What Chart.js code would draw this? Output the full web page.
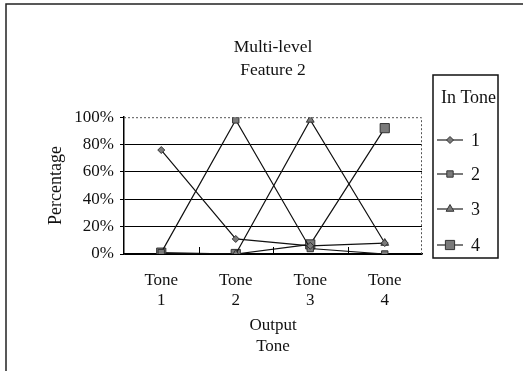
<!DOCTYPE html>
<html><head><meta charset="utf-8">
<script src="https://cdn.jsdelivr.net/npm/chart.js@4/dist/chart.umd.min.js"></script>
<style>html,body{margin:0;padding:0;background:#fff}#wrap{width:523px;height:371px;position:relative}</style>
</head><body><div id="wrap"><canvas id="c" width="523" height="371"></canvas></div>
<script>
const categories = [["Tone","1"],["Tone","2"],["Tone","3"],["Tone","4"]];
const seriesNames = ["1","2","3","4"];
const tone1 = [76, 11, 6, 8];
const tone2 = [1, 98, 4, 0];
const tone3 = [0, 0, 98, 8];
const tone4 = [1, 0, 7, 92];
const yTicks = [0, 20, 40, 60, 80, 100];
const titleLines = ["Multi-level","Feature 2"];
const xTitle = ["Output","Tone"];
const yTitle = "Percentage";
const legendTitle = "In Tone";

const SERIF = "'Liberation Serif','Times New Roman',serif";
const styles = [
  {pointStyle:'rectRot', radius:3.5},
  {pointStyle:'rect', radius:4.5},
  {pointStyle:'triangle', radius:4.5},
  {pointStyle:'rect', radius:6.5}
];
const values = [tone1, tone2, tone3, tone4];

const decor = {
  id:'decor',
  afterDraw(chart){
    const ctx = chart.ctx, a = chart.chartArea, xs = chart.scales.x;
    ctx.save();
    ctx.strokeStyle = '#222'; ctx.lineWidth = 1.5;
    ctx.beginPath(); ctx.moveTo(6, 371); ctx.lineTo(6, 4); ctx.lineTo(523, 4); ctx.stroke();
    ctx.strokeStyle = '#555'; ctx.lineWidth = 1; ctx.setLineDash([2,2]);
    ctx.beginPath(); ctx.moveTo(a.left, a.top+0.5); ctx.lineTo(a.right-0.5, a.top+0.5); ctx.lineTo(a.right-0.5, a.bottom); ctx.stroke();
    ctx.setLineDash([]);
    ctx.strokeStyle = '#000'; ctx.lineWidth = 1;
    for (let i = 0; i < categories.length - 1; i++) {
      const x = Math.round((xs.getPixelForValue(i) + xs.getPixelForValue(i+1)) / 2) + 0.5;
      ctx.beginPath(); ctx.moveTo(x, a.bottom); ctx.lineTo(x, a.bottom - 7); ctx.stroke();
    }
    const L = 433, T = 75, R = 498, B = 258;
    ctx.strokeStyle = '#111'; ctx.lineWidth = 1.5;
    ctx.strokeRect(L, T, R - L, B - T);
    ctx.fillStyle = '#111'; ctx.font = '18px ' + SERIF; ctx.textBaseline = 'middle';
    ctx.textAlign = 'center'; ctx.fillText(legendTitle, (L + R) / 2 + 3, 98);
    const ys = [140, 174, 209, 245];
    chart.data.datasets.forEach((ds, i) => {
      const y = ys[i];
      ctx.strokeStyle = '#222'; ctx.lineWidth = 1.2;
      ctx.beginPath(); ctx.moveTo(437, y); ctx.lineTo(463, y); ctx.stroke();
      ctx.fillStyle = ds.pointBackgroundColor; ctx.strokeStyle = ds.pointBorderColor; ctx.lineWidth = 1;
      Chart.helpers.drawPoint(ctx, {pointStyle: ds.pointStyle, radius: ds.pointRadius, borderWidth: 1, rotation: 0}, 450, y);
      ctx.fillStyle = '#111'; ctx.textAlign = 'left';
      ctx.fillText(ds.label, 471, y + 1);
    });
    ctx.restore();
  }
};

new Chart(document.getElementById('c'), {
  type: 'line',
  data: {
    labels: categories,
    datasets: values.map((v, i) => ({
      label: seriesNames[i],
      data: v,
      borderColor: '#111',
      borderWidth: 1.2,
      pointStyle: styles[i].pointStyle,
      pointRadius: styles[i].radius,
      pointBackgroundColor: '#7a7a7a',
      pointBorderColor: '#333',
      pointBorderWidth: 1,
      tension: 0,
      fill: false
    }))
  },
  options: {
    responsive: false,
    animation: false,
    devicePixelRatio: 1,
    layout: {padding: {left: 45, right: 101, top: 0, bottom: 0}},
    plugins: {
      legend: {display: false},
      tooltip: {enabled: false},
      title: {
        display: true, text: titleLines, fullSize: false, color: '#111',
        font: {family: SERIF, size: 17.5, weight: 'normal', lineHeight: 1.32},
        padding: {top: 36, bottom: 35}
      }
    },
    scales: {
      x: {
        offset: true,
        grid: {display: true, drawOnChartArea: false, drawTicks: false},
        border: {display: true, color: '#000', width: 1.5},
        ticks: {color: '#111', padding: 17, maxRotation: 0, autoSkip: false,
          font: {family: SERIF, size: 17, lineHeight: 1.15}},
        title: {display: true, text: xTitle, color: '#111',
          font: {family: SERIF, size: 17, lineHeight: 1.25}, padding: {top: 0, bottom: 14}},
        afterFit(s){ s.height = 371 - 254; }
      },
      y: {
        min: 0, max: 100,
        afterBuildTicks(s){ s.ticks = yTicks.map(v => ({value: v})); },
        grid: {color: ctx => ctx.tick && ctx.tick.value === 100 ? 'rgba(0,0,0,0)' : '#000',
               tickColor: '#000', tickLength: 4, lineWidth: 1},
        border: {display: true, color: '#000', width: 1.5},
        ticks: {color: '#111', padding: 6, callback: v => v + '%',
          font: {family: SERIF, size: 17}},
        title: {display: true, text: yTitle, color: '#111',
          font: {family: SERIF, size: 18}, padding: {top: 0, bottom: 0}},
        afterFit(s){ s.width = 124 - 45; }
      }
    }
  },
  plugins: [decor]
});
</script></body></html>
